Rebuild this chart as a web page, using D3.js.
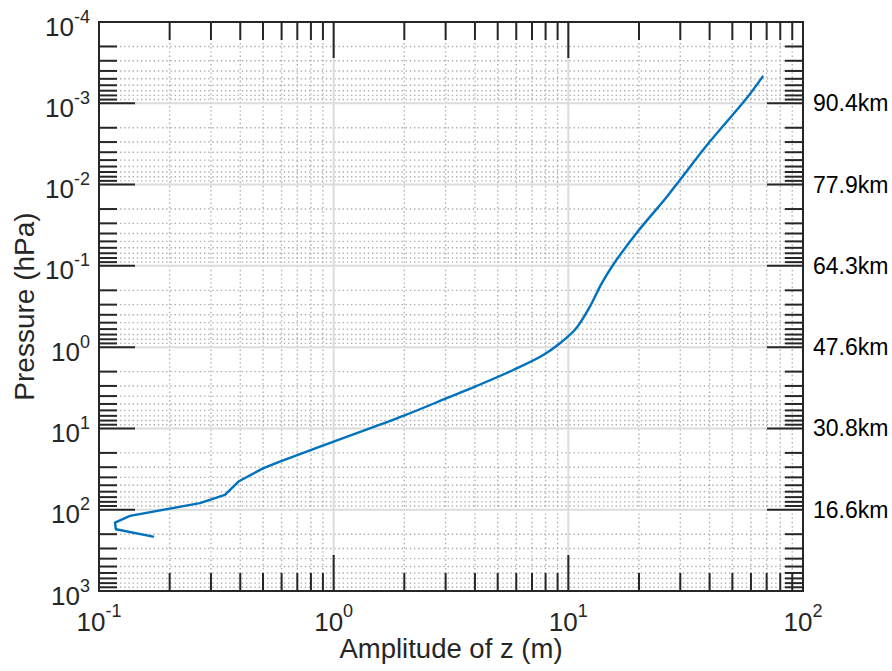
<!DOCTYPE html>
<html>
<head>
<meta charset="utf-8">
<script src="https://cdn.jsdelivr.net/npm/d3@7"></script>
<style>
  html, body { margin: 0; padding: 0; background: #ffffff; }
  svg { display: block; font-family: "Liberation Sans", Arial, Helvetica, sans-serif; }
</style>
</head>
<body>
<svg id="chart" width="892" height="671"></svg>
<script>
// ---- data ----
const xTickExps = [-1, 0, 1, 2];
const yTickExps = [-4, -3, -2, -1, 0, 1, 2, 3];
const kmPressures = [1e-3, 1e-2, 1e-1, 1, 10, 100];
const kmLabels = ["90.4km", "77.9km", "64.3km", "47.6km", "30.8km", "16.6km"];
const xLabel = "Amplitude of z (m)";
const yLabel = "Pressure (hPa)";

const pressure = [214, 174, 144, 119, 83, 65.8, 45, 31, 25.6, 14.5, 7.0, 4.25, 3.0, 1.91, 1.25, 0.895, 0.61, 0.508, 0.318, 0.164, 0.0975, 0.0397, 0.0143, 0.00877, 0.00296, 0.000869, 0.00047];
const amplitude = [0.170, 0.118, 0.117, 0.1355, 0.269, 0.344, 0.393, 0.50, 0.59, 1.0, 1.98, 3.03, 4.07, 5.83, 7.82, 9.21, 10.67, 11.2, 12.36, 13.87, 15.5, 19.5, 26.2, 29.9, 40.1, 57.5, 67.3];

// ---- layout ----
const L = 99, R = 803, T = 22, B = 591;
const axisColor = "#262626";
const svg = d3.select("#chart");

const x = d3.scaleLog().domain([0.1, 100]).range([L, R]);
const y = d3.scaleLog().domain([1e-4, 1e3]).range([T, B]);

const xMajor = xTickExps.map(e => Math.pow(10, e));
const yMajor = yTickExps.map(e => Math.pow(10, e));
const xMinor = [], yMinor = [];
for (let i = 0; i < xMajor.length - 1; i++) for (let k = 2; k <= 9; k++) xMinor.push(k * xMajor[i]);
for (let i = 0; i < yMajor.length - 1; i++) for (let k = 2; k <= 9; k++) yMinor.push(k * yMajor[i]);

// minor grid (dotted)
const gMinor = svg.append("g").attr("stroke", "#aeaeae").attr("stroke-width", 1.4).attr("stroke-dasharray", "1.4,2.8");
gMinor.selectAll("line.vx").data(xMinor).join("line")
  .attr("x1", d => x(d)).attr("x2", d => x(d)).attr("y1", T).attr("y2", B);
gMinor.selectAll("line.hy").data(yMinor).join("line")
  .attr("y1", d => y(d)).attr("y2", d => y(d)).attr("x1", L).attr("x2", R);

// major grid (solid light)
const gMajor = svg.append("g").attr("stroke", "#dcdcdc").attr("stroke-width", 2);
gMajor.selectAll("line.vx").data(xMajor.slice(1, -1)).join("line")
  .attr("x1", d => x(d)).attr("x2", d => x(d)).attr("y1", T).attr("y2", B);
gMajor.selectAll("line.hy").data(yMajor.slice(1, -1)).join("line")
  .attr("y1", d => y(d)).attr("y2", d => y(d)).attr("x1", L).attr("x2", R);

// data line: lower part with sharp joints, upper part smooth
const pts = pressure.map((p, i) => [amplitude[i], p]);
const lineLinear = d3.line().x(d => x(d[0])).y(d => y(d[1]));
const lineSmooth = d3.line().x(d => x(d[0])).y(d => y(d[1])).curve(d3.curveCatmullRom.alpha(0.5));
const split = 7;
[[pts.slice(0, split + 1), lineLinear], [pts.slice(split), lineSmooth]].forEach(([seg, gen]) => {
  svg.append("path")
    .datum(seg)
    .attr("fill", "none")
    .attr("stroke", "#0072BD")
    .attr("stroke-width", 2.4)
    .attr("stroke-linejoin", "round")
    .attr("stroke-linecap", "round")
    .attr("d", gen);
});

// ticks (inward, on all four sides)
const gt = svg.append("g").attr("stroke", axisColor).attr("stroke-width", 2);
function xTicks(vals, len) {
  gt.append("g").selectAll("line").data(vals).join("line")
    .attr("x1", d => x(d)).attr("x2", d => x(d)).attr("y1", B).attr("y2", B - len);
  gt.append("g").selectAll("line").data(vals).join("line")
    .attr("x1", d => x(d)).attr("x2", d => x(d)).attr("y1", T).attr("y2", T + len);
}
function yTicks(vals, len) {
  gt.append("g").selectAll("line").data(vals).join("line")
    .attr("y1", d => y(d)).attr("y2", d => y(d)).attr("x1", L).attr("x2", L + len);
  gt.append("g").selectAll("line").data(vals).join("line")
    .attr("y1", d => y(d)).attr("y2", d => y(d)).attr("x1", R).attr("x2", R - len);
}
xTicks(xMinor, 18); xTicks(xMajor, 36);
yTicks(yMinor, 18); yTicks(yMajor, 36);

// box
svg.append("rect").attr("x", L).attr("y", T).attr("width", R - L).attr("height", B - T)
  .attr("fill", "none").attr("stroke", axisColor).attr("stroke-width", 2);

// tick labels
const fs = 26, efs = 18;
const xl = svg.append("g").attr("fill", axisColor).attr("font-size", fs).attr("text-anchor", "middle");
xTickExps.forEach(e => {
  const t = xl.append("text").attr("x", x(Math.pow(10, e))).attr("y", B + 40);
  t.append("tspan").text("10");
  t.append("tspan").attr("dy", -14).attr("font-size", efs).text(String(e));
});
const yl = svg.append("g").attr("fill", axisColor).attr("font-size", fs).attr("text-anchor", "end");
yTickExps.forEach(e => {
  const t = yl.append("text").attr("x", 90).attr("y", y(Math.pow(10, e)) + 13.5);
  t.append("tspan").text("10");
  t.append("tspan").attr("dy", -13).attr("font-size", efs).text(String(e));
});

// km labels
svg.append("g").attr("fill", "#000").attr("font-size", 23)
  .selectAll("text").data(kmPressures).join("text")
  .attr("x", 813).attr("y", d => y(d) + 8)
  .text((d, i) => kmLabels[i]);

// axis labels
svg.append("text").attr("x", (L + R) / 2).attr("y", 658).attr("text-anchor", "middle")
  .attr("font-size", 27.5).attr("fill", axisColor).text(xLabel);
svg.append("text").attr("transform", `translate(34,${(T + B) / 2}) rotate(-90)`).attr("text-anchor", "middle")
  .attr("font-size", 28).attr("fill", axisColor).text(yLabel);
</script>
</body>
</html>
